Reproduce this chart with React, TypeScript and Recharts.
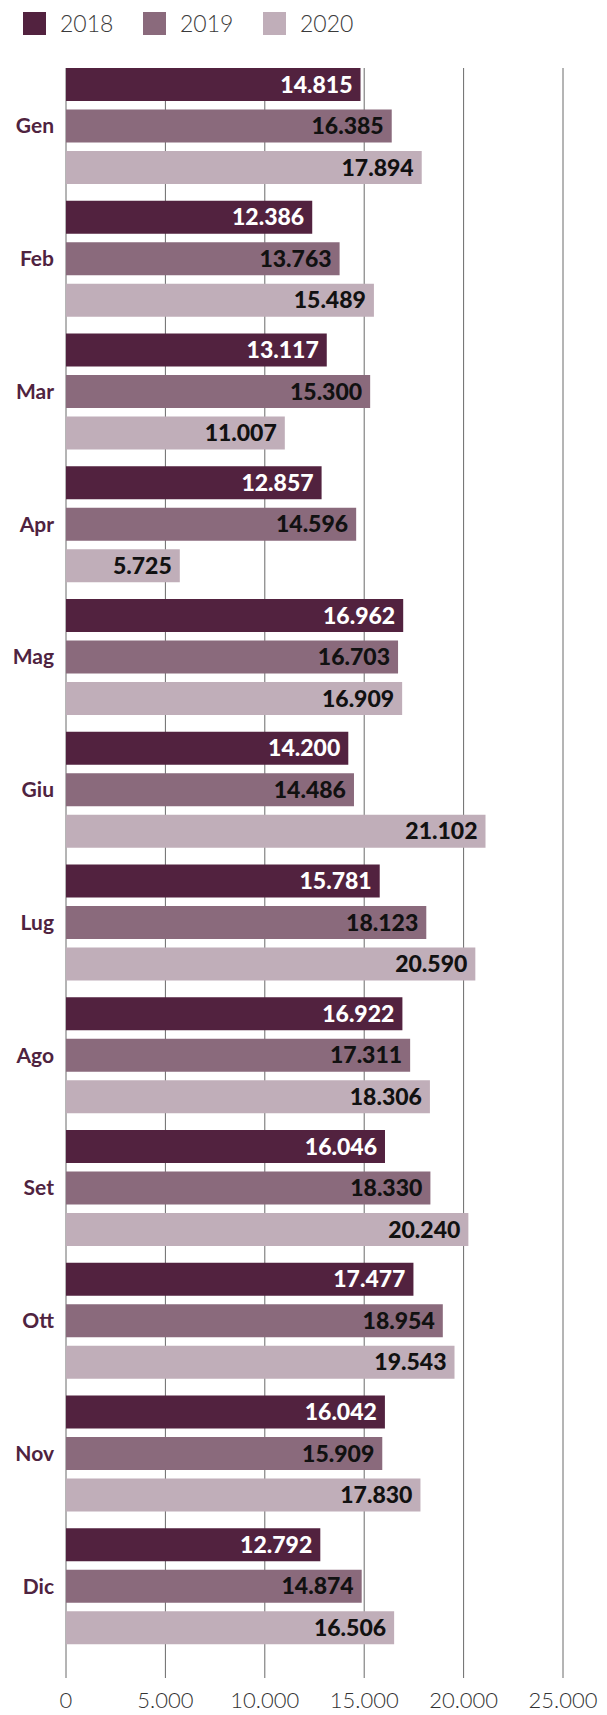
import { Bar, BarChart, CartesianGrid, LabelList, XAxis, YAxis } from 'recharts'

const MONTHS = ['Gen', 'Feb', 'Mar', 'Apr', 'Mag', 'Giu', 'Lug', 'Ago', 'Set', 'Ott', 'Nov', 'Dic']
const Y2018 = [14815, 12386, 13117, 12857, 16962, 14200, 15781, 16922, 16046, 17477, 16042, 12792]
const Y2019 = [16385, 13763, 15300, 14596, 16703, 14486, 18123, 17311, 18330, 18954, 15909, 14874]
const Y2020 = [17894, 15489, 11007, 5725, 16909, 21102, 20590, 18306, 20240, 19543, 17830, 16506]
const X_TICKS = [0, 5000, 10000, 15000, 20000, 25000]

const SERIES = [
  { key: 'y2018', name: '2018', color: '#52223f', text: '#ffffff' },
  { key: 'y2019', name: '2019', color: '#8a6a7c', text: '#111111' },
  { key: 'y2020', name: '2020', color: '#c0aeb9', text: '#111111' },
]

const FONT = 'Lato, "Open Sans", sans-serif'

const data = MONTHS.map((m, i) => ({ month: m, y2018: Y2018[i], y2019: Y2019[i], y2020: Y2020[i] }))

// thousands with a dot, italian style
const fmt = (v: number) => String(v).replace(/\B(?=(\d{3})+(?!\d))/g, '.')

function Legend() {
  return (
    <div style={{ position: 'absolute', top: 12, left: 23, display: 'flex', fontFamily: FONT }}>
      {SERIES.map((s) => (
        <div key={s.key} style={{ display: 'flex', alignItems: 'center', width: 120, height: 23 }}>
          <div style={{ width: 23, height: 23, background: s.color }} />
          <span style={{ marginLeft: 14, fontSize: 23, fontWeight: 300, color: '#3a3a3a', lineHeight: '23px' }}>
            {s.name}
          </span>
        </div>
      ))}
    </div>
  )
}

export default function App() {
  return (
    <div style={{ position: 'absolute', left: 0, top: 0, width: 607, height: 1715, background: '#fff' }}>
      <Legend />
      <BarChart
        width={607}
        height={1715}
        data={data}
        layout="vertical"
        margin={{ top: 68, right: 44, left: 0, bottom: 0 }}
        barCategoryGap={8.5}
        barGap={8.5}
      >
        <CartesianGrid horizontal={false} stroke="#6a6a6a" />
        <XAxis
          type="number"
          domain={[0, 25000]}
          ticks={X_TICKS}
          tickFormatter={fmt}
          axisLine={false}
          tickLine={false}
          tickSize={0}
          tickMargin={14}
          height={37}
          tick={{ fill: '#333', fontSize: 22, fontFamily: FONT, fontWeight: 300 }}
        />
        <YAxis
          dataKey="month"
          type="category"
          width={66}
          padding={{ top: -8.5, bottom: 25.5 }}
          axisLine={false}
          tickLine={false}
          tickSize={0}
          tickMargin={12}
          tick={{ fill: '#4f2340', fontSize: 21, fontFamily: FONT, fontWeight: 700 }}
        />
        {SERIES.map((s) => (
          <Bar key={s.key} dataKey={s.key} name={s.name} fill={s.color} isAnimationActive={false}>
            <LabelList
              dataKey={s.key}
              position="insideRight"
              offset={8}
              formatter={(v: any) => fmt(Number(v))}
              fill={s.text}
              style={{ fontSize: 23, fontFamily: FONT, fontWeight: 900 }}
            />
          </Bar>
        ))}
      </BarChart>
    </div>
  )
}
